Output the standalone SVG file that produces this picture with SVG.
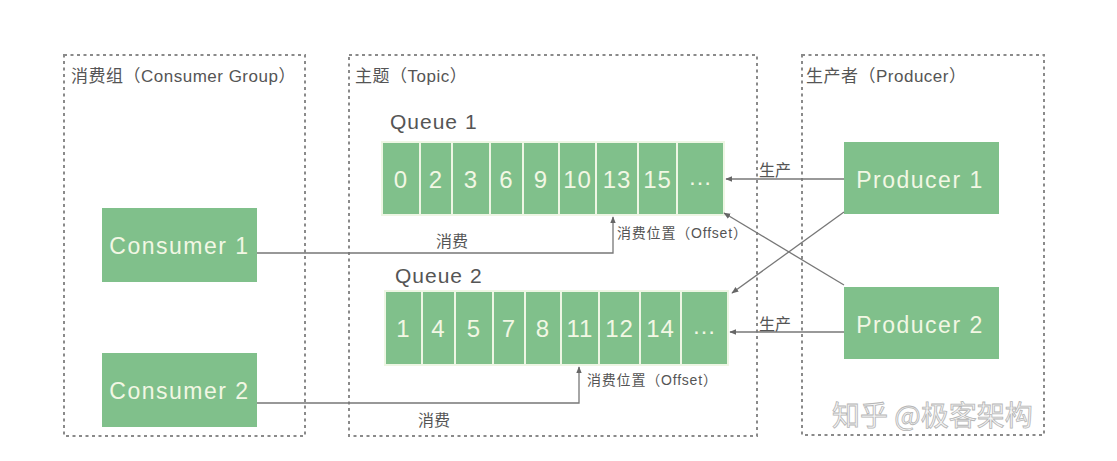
<svg xmlns="http://www.w3.org/2000/svg" width="1117" height="461" viewBox="0 0 1117 461">
<style>
.frame{fill:none;stroke:#8a8a8a;stroke-width:2;stroke-dasharray:3 3.5}
.box{fill:#80c08b}
.cell{fill:#80c08b;stroke:#eef6e4;stroke-width:2}
.ntxt{font-family:"Liberation Sans","Noto Sans CJK SC",sans-serif;font-size:24px;fill:#f2f7e4;letter-spacing:1px}
.ctxt{font-family:"Liberation Sans","Noto Sans CJK SC",sans-serif;font-size:23px;fill:#f2f7e4;letter-spacing:1.5px}
.lbl{font-family:"Liberation Sans","Noto Sans CJK SC",sans-serif;fill:#555;}
.conn{fill:none;stroke:#777;stroke-width:1.3}
.wm{font-family:"Noto Sans CJK SC",sans-serif;font-size:28px;fill:#f4f4f4;stroke:#b5b5b5;stroke-width:0.8}
</style>
<defs>
<marker id="ah" viewBox="0 0 10 10" refX="9" refY="5" markerWidth="7" markerHeight="7" orient="auto-start-reverse" markerUnits="userSpaceOnUse">
<path d="M0,1 L10,5 L0,9 z" fill="#666"/>
</marker>
</defs>
<rect width="1117" height="461" fill="#ffffff"/>

<g id="consumer-group">
<rect class="frame" x="64" y="55" width="241" height="381"/>
<text class="lbl" x="71" y="82" font-size="17" letter-spacing="0.5">消费组（Consumer Group）</text>
</g>
<g id="topic">
<rect class="frame" x="349" y="55" width="408" height="381"/>
<text class="lbl" x="355" y="82" font-size="17" letter-spacing="0.5">主题（Topic）</text>
</g>
<g id="producer-group">
<rect class="frame" x="802" y="55" width="242" height="380"/>
<text class="lbl" x="806" y="82" font-size="17" letter-spacing="0.5">生产者（Producer）</text>
</g>

<g id="consumer1">
<rect class="box" x="102" y="208" width="155" height="74"/>
<text class="ctxt" x="179.5" y="254" text-anchor="middle">Consumer 1</text>
</g>
<g id="consumer2">
<rect class="box" x="102" y="353" width="155" height="74"/>
<text class="ctxt" x="179.5" y="399" text-anchor="middle">Consumer 2</text>
</g>
<g id="producer1">
<rect class="box" x="844" y="142" width="155" height="72"/>
<text class="ctxt" x="920" y="188" text-anchor="middle">Producer 1</text>
</g>
<g id="producer2">
<rect class="box" x="844" y="287" width="155" height="72"/>
<text class="ctxt" x="920" y="333" text-anchor="middle">Producer 2</text>
</g>

<g id="queue1">
<text class="lbl" x="390" y="129" font-size="21" letter-spacing="1">Queue 1</text>
<rect class="cell" x="382" y="142" width="38" height="73"/>
<rect class="cell" x="420" y="142" width="32" height="73"/>
<rect class="cell" x="452" y="142" width="38" height="73"/>
<rect class="cell" x="490" y="142" width="33" height="73"/>
<rect class="cell" x="523" y="142" width="36" height="73"/>
<rect class="cell" x="559" y="142" width="37" height="73"/>
<rect class="cell" x="596" y="142" width="42" height="73"/>
<rect class="cell" x="638" y="142" width="39" height="73"/>
<rect class="cell" x="677" y="142" width="47" height="73"/>
<g class="ntxt" text-anchor="middle">
<text x="401" y="188">0</text>
<text x="436" y="188">2</text>
<text x="471" y="188">3</text>
<text x="506.5" y="188">6</text>
<text x="541" y="188">9</text>
<text x="577.5" y="188">10</text>
<text x="617" y="188">13</text>
<text x="657.5" y="188">15</text>
<text x="700.5" y="185">…</text>
</g>
</g>

<g id="queue2">
<text class="lbl" x="395" y="283" font-size="21" letter-spacing="1">Queue 2</text>
<rect class="cell" x="385" y="291" width="37" height="74"/>
<rect class="cell" x="422" y="291" width="33" height="74"/>
<rect class="cell" x="455" y="291" width="38" height="74"/>
<rect class="cell" x="493" y="291" width="32" height="74"/>
<rect class="cell" x="525" y="291" width="36" height="74"/>
<rect class="cell" x="561" y="291" width="38" height="74"/>
<rect class="cell" x="599" y="291" width="41" height="74"/>
<rect class="cell" x="640" y="291" width="41" height="74"/>
<rect class="cell" x="681" y="291" width="47" height="74"/>
<g class="ntxt" text-anchor="middle">
<text x="403.5" y="337">1</text>
<text x="438.5" y="337">4</text>
<text x="474" y="337">5</text>
<text x="509" y="337">7</text>
<text x="543" y="337">8</text>
<text x="580" y="337">11</text>
<text x="619.5" y="337">12</text>
<text x="660.5" y="337">14</text>
<text x="704.5" y="334">…</text>
</g>
</g>

<g id="connectors">
<polyline class="conn" points="257,253 613,253 613,217" marker-end="url(#ah)"/>
<polyline class="conn" points="257,403 579,403 579,367" marker-end="url(#ah)"/>
<line class="conn" x1="844" y1="179" x2="726" y2="179" marker-end="url(#ah)"/>
<line class="conn" x1="844" y1="332" x2="730" y2="332" marker-end="url(#ah)"/>
<line class="conn" x1="844" y1="212" x2="732" y2="293" marker-end="url(#ah)"/>
<line class="conn" x1="844" y1="285" x2="724" y2="213" marker-end="url(#ah)"/>
<text class="lbl" x="436" y="247" font-size="16">消费</text>
<text class="lbl" x="617" y="238" font-size="14" letter-spacing="0.8">消费位置（Offset）</text>
<text class="lbl" x="418" y="426" font-size="16">消费</text>
<text class="lbl" x="587" y="385" font-size="14" letter-spacing="0.8">消费位置（Offset）</text>
<text class="lbl" x="759" y="176" font-size="16">生产</text>
<text class="lbl" x="759" y="330" font-size="16">生产</text>
</g>

<text class="wm" x="832" y="426">知乎 @极客架构</text>
</svg>
